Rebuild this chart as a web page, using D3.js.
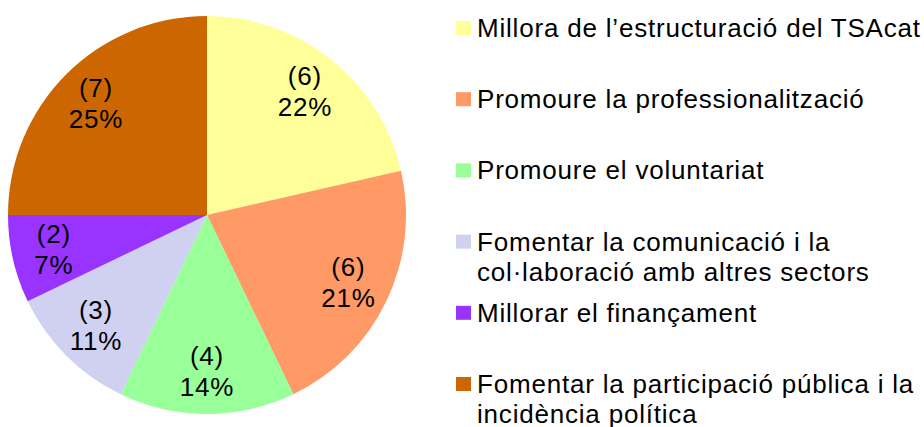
<!DOCTYPE html>
<html lang="ca">
<head>
  <meta charset="UTF-8">
  <title>Pie</title>
  <script src="https://d3js.org/d3.v7.min.js"></script>
  <style>
    body { margin: 0; background: #fff; }
    text { font-family: "Liberation Sans", Arial, sans-serif; fill: #000; letter-spacing: 0.8px; }
  </style>
</head>
<body>
  <svg width="924" height="427"></svg>

  <script>
    const categories = [
      ["Millora de l\u2019estructuració del TSAcat"],
      ["Promoure la professionalització"],
      ["Promoure el voluntariat"],
      ["Fomentar la comunicació i la", "col·laboració amb altres sectors"],
      ["Millorar el finançament"],
      ["Fomentar la participació pública i la", "incidència política"]
    ];
    const counts = [6, 6, 4, 3, 2, 7];
    const percentLabels = ["22%", "21%", "14%", "11%", "7%", "25%"];
    const colors = ["#FFFF99", "#FF9966", "#99FF99", "#D0D0F0", "#9933FF", "#CC6600"];

    const svg = d3.select("svg");
    const cx = 207, cy = 215, radius = 199;

    const pie = d3.pie().sort(null).value(d => d);
    const arcs = pie(counts);

    const arc = d3.arc().innerRadius(0).outerRadius(radius);
    const labelArc = d3.arc().innerRadius(157).outerRadius(157);

    const g = svg.append("g").attr("transform", `translate(${cx},${cy})`);

    g.selectAll("path")
      .data(arcs)
      .enter().append("path")
        .attr("d", arc)
        .attr("fill", (d, i) => colors[i]);

    const labels = g.selectAll("text.lbl")
      .data(arcs)
      .enter().append("text")
        .attr("class", "lbl")
        .attr("text-anchor", "middle")
        .attr("font-size", 26)
        .attr("transform", d => `translate(${labelArc.centroid(d)})`);

    labels.append("tspan").attr("x", 0).attr("y", -7).text(d => `(${d.data})`);
    labels.append("tspan").attr("x", 0).attr("y", 24).text((d, i) => percentLabels[i]);

    // legend
    const legendY = d3.scalePoint()
      .domain(d3.range(categories.length))
      .range([28, 384]);

    const leg = svg.append("g").selectAll("g")
      .data(categories)
      .enter().append("g")
        .attr("transform", (d, i) => `translate(456,${legendY(i)})`);

    leg.append("rect")
      .attr("x", 0).attr("y", -7)
      .attr("width", 15).attr("height", 14)
      .attr("fill", (d, i) => colors[i]);

    const lt = leg.append("text")
      .attr("font-size", 26);
    lt.selectAll("tspan")
      .data(d => d)
      .enter().append("tspan")
        .attr("x", 21)
        .attr("y", (d, j) => 9 + j * 30)
        .text(d => d);
  </script>
</body>
</html>
